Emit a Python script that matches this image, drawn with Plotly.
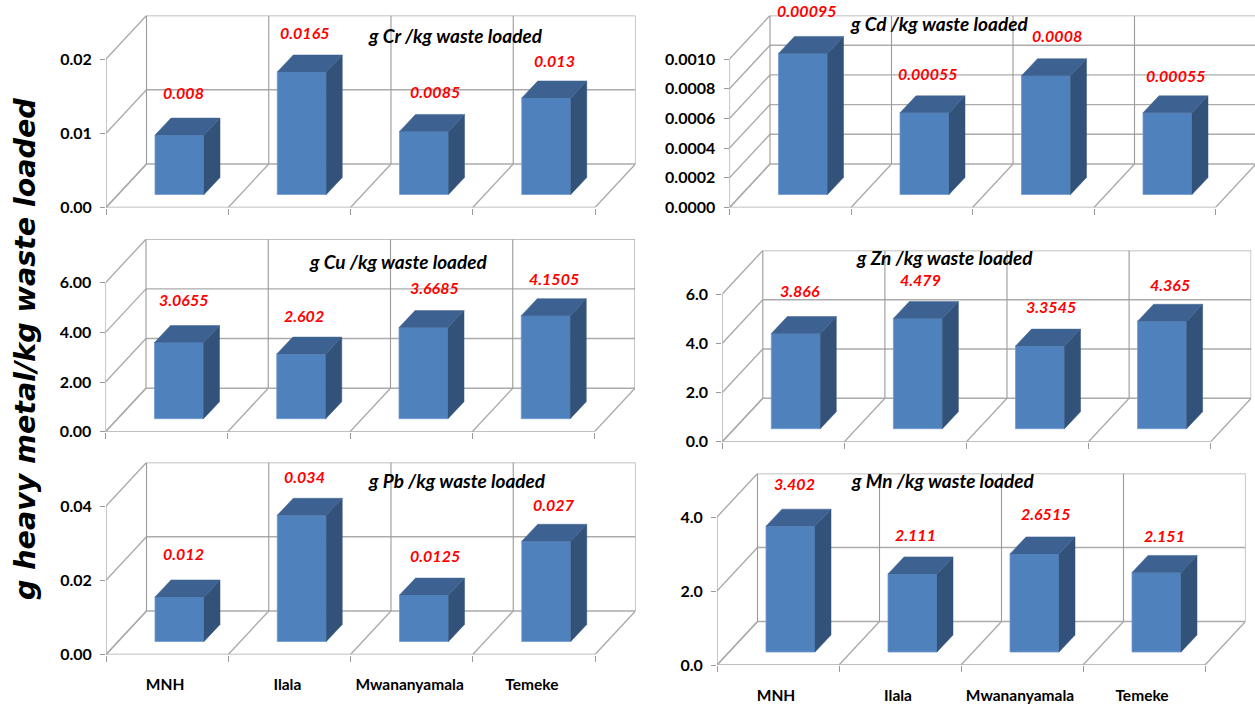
import plotly.graph_objects as go

WIDTH, HEIGHT = 1255, 707

sites = ["MNH", "Ilala", "Mwananyamala", "Temeke"]

cr_values = [0.008, 0.0165, 0.0085, 0.013]
cu_values = [3.0655, 2.602, 3.6685, 4.1505]
pb_values = [0.012, 0.034, 0.0125, 0.027]
cd_values = [0.00095, 0.00055, 0.0008, 0.00055]
zn_values = [3.866, 4.479, 3.3545, 4.365]
mn_values = [3.402, 2.111, 2.6515, 2.151]

cr_labels = ["0.008", "0.0165", "0.0085", "0.013"]
cu_labels = ["3.0655", "2.602", "3.6685", "4.1505"]
pb_labels = ["0.012", "0.034", "0.0125", "0.027"]
cd_labels = ["0.00095", "0.00055", "0.0008", "0.00055"]
zn_labels = ["3.866", "4.479", "3.3545", "4.365"]
mn_labels = ["3.402", "2.111", "2.6515", "2.151"]

cr_ticks = [0, 0.01, 0.02]
cu_ticks = [0, 2, 4, 6]
pb_ticks = [0, 0.02, 0.04]
cd_ticks = [0, 0.0002, 0.0004, 0.0006, 0.0008, 0.001]
zn_ticks = [0, 2, 4, 6]
mn_ticks = [0, 2, 4]

# Layout of each panel in screen pixels: plot origin, category width,
# pixel row of the highest tick, and where its heading is centred.
panels = [
    dict(metal="Cr", values=cr_values, labels=cr_labels, ticks=cr_ticks, fmt="{:.2f}",
         x0=106, cw=122.25, y0=207.5, ytop=59, head=(455, 36), cats=False),
    dict(metal="Cu", values=cu_values, labels=cu_labels, ticks=cu_ticks, fmt="{:.2f}",
         x0=105.5, cw=122.25, y0=431.7, ytop=282.7, head=(399, 261), cats=False),
    dict(metal="Pb", values=pb_values, labels=pb_labels, ticks=pb_ticks, fmt="{:.2f}",
         x0=106, cw=122.25, y0=654.5, ytop=506, head=(457, 480), cats=True),
    dict(metal="Cd", values=cd_values, labels=cd_labels, ticks=cd_ticks, fmt="{:.4f}",
         x0=729.5, cw=121.5, y0=207.5, ytop=59, head=(939, 24), cats=False),
    dict(metal="Zn", values=zn_values, labels=zn_labels, ticks=zn_ticks, fmt="{:.1f}",
         x0=722.3, cw=122.1, y0=441.7, ytop=294, head=(944, 257), cats=False),
    dict(metal="Mn", values=mn_values, labels=mn_labels, ticks=mn_ticks, fmt="{:.1f}",
         x0=717, cw=122, y0=665, ytop=517, head=(942, 480), cats=True),
]

# Oblique projection, in pixels: depth of the box and of each column.
BOX_DX, BOX_DY = 40.5, 43.5
BAR_DX, BAR_DY = 16, 17
BAR_LEFT, BAR_WIDTH, BAR_LIFT = 49, 49, 13

# Value label placement per category: sideways shift and height over the front top edge.
LABEL_SHIFT_X = [4, 3, 11, 8]
LABEL_LIFT = [43, 39, 40, 37]

FRONT, TOP, SIDE = "#4F81BD", "#3D6291", "#325279"
GRID, AXIS = "#ABABAB", "#9A9A9A"
TEXT_FONT = "Lato"

fig = go.Figure()
shapes, annotations = [], []


def grid_line(xref, yref, x1, y1, x2, y2, color=GRID, width=1.4):
    shapes.append(dict(type="line", xref=xref, yref=yref, x0=x1, y0=y1, x1=x2, y1=y2,
                       layer="below", line=dict(color=color, width=width)))


for n, p in enumerate(panels, start=1):
    xa, ya = f"x{n}", f"y{n}"
    vmax = p["ticks"][-1]
    kx = 1 / p["cw"]
    ky = vmax / (p["y0"] - p["ytop"])

    box_x, box_y = BOX_DX * kx, BOX_DY * ky
    bar_dx, bar_dy = BAR_DX * kx, BAR_DY * ky
    lift = BAR_LIFT * ky
    ncat = len(p["values"])

    # Walls and floor of the box.
    for v in p["ticks"]:
        grid_line(xa, ya, 0, v, box_x, v + box_y)
        grid_line(xa, ya, box_x, v + box_y, ncat + box_x, v + box_y)
    for i in range(ncat + 1):
        grid_line(xa, ya, i, 0, i + box_x, box_y)
        grid_line(xa, ya, i + box_x, box_y, i + box_x, vmax + box_y, color=AXIS, width=1.1)
    grid_line(xa, ya, 0, 0, ncat, 0)
    grid_line(xa, ya, 0, 0, 0, vmax, color=AXIS, width=1.1)

    # Column fronts.
    lefts = [i + BAR_LEFT * kx for i in range(ncat)]
    width = BAR_WIDTH * kx
    fig.add_trace(go.Bar(
        x=[left + width / 2 for left in lefts], y=p["values"], base=[lift] * ncat,
        width=width, marker=dict(color=FRONT, line=dict(color="#6E9BD1", width=0.8)),
        xaxis=xa, yaxis=ya, showlegend=False, hoverinfo="skip",
    ))

    # Column top and side faces, built from the same values.
    for i, (left, v) in enumerate(zip(lefts, p["values"])):
        right = left + width
        t = lift + v
        fig.add_trace(go.Scatter(
            x=[right, right + bar_dx, right + bar_dx, right, right],
            y=[lift, lift + bar_dy, t + bar_dy, t, lift],
            mode="lines", fill="toself", fillcolor=SIDE, line=dict(color=SIDE, width=0.5),
            xaxis=xa, yaxis=ya, showlegend=False, hoverinfo="skip",
        ))
        fig.add_trace(go.Scatter(
            x=[left, left + bar_dx, right + bar_dx, right, left],
            y=[t, t + bar_dy, t + bar_dy, t, t],
            mode="lines", fill="toself", fillcolor=TOP, line=dict(color=TOP, width=0.5),
            xaxis=xa, yaxis=ya, showlegend=False, hoverinfo="skip",
        ))
        annotations.append(dict(
            xref=xa, yref=ya, x=left + width / 2, y=t, text=p["labels"][i], showarrow=False,
            xshift=LABEL_SHIFT_X[i], yshift=LABEL_LIFT[i], xanchor="center", yanchor="middle",
            font=dict(family=TEXT_FONT, size=16, color="#FF0000", weight="bold", style="italic"),
        ))

    annotations.append(dict(
        xref="paper", yref="paper", x=p["head"][0] / WIDTH, y=1 - p["head"][1] / HEIGHT,
        text=f"g {p['metal']} /kg waste loaded", showarrow=False,
        xanchor="center", yanchor="middle",
        font=dict(family=TEXT_FONT, size=19, color="#000000", weight="bold", style="italic"),
    ))

    # The plot area runs to the page edge at most; the data range follows it.
    right_px = min(p["x0"] + (ncat + box_x) * p["cw"], WIDTH)
    span_x = (right_px - p["x0"]) * kx
    span_y = vmax + box_y
    xaxis = dict(
        domain=[p["x0"] / WIDTH, right_px / WIDTH], automargin=False,
        range=[0, span_x], anchor=ya, showgrid=False, zeroline=False, showline=False,
        tickmode="array",
        tickvals=[i + 0.5 - 2 * kx for i in range(ncat)],
        ticktext=sites, ticks="", showticklabels=p["cats"],
        ticklabelstandoff=19,
        tickfont=dict(family=TEXT_FONT, size=15.5, color="#000000", weight="bold"),
        minor=dict(tickmode="array", tickvals=list(range(ncat + 1)), ticks="outside",
                   ticklen=6, tickcolor=AXIS, tickwidth=1.1, showgrid=False),
    )
    yaxis = dict(
        domain=[(HEIGHT - p["y0"]) / HEIGHT, (HEIGHT - p["y0"] + span_y / ky) / HEIGHT],
        automargin=False,
        range=[0, span_y], anchor=xa, showgrid=False, zeroline=False, showline=False,
        tickmode="array", tickvals=p["ticks"],
        ticktext=[p["fmt"].format(v) for v in p["ticks"]],
        ticks="outside", ticklen=5, tickcolor=AXIS, tickwidth=1.1, ticklabelstandoff=5,
        tickfont=dict(family=TEXT_FONT, size=16, color="#000000", weight="bold"),
    )
    suffix = "" if n == 1 else str(n)
    fig.update_layout({f"xaxis{suffix}": xaxis, f"yaxis{suffix}": yaxis})

annotations.append(dict(
    xref="paper", yref="paper", x=25 / WIDTH, y=1 - 349 / HEIGHT,
    text="g heavy metal/kg waste loaded", textangle=-90, showarrow=False,
    xanchor="center", yanchor="middle",
    font=dict(family="DejaVu Sans", size=28.5, color="#000000", weight="bold", style="italic"),
))

fig.update_layout(
    width=WIDTH, height=HEIGHT, margin=dict(l=0, r=0, t=0, b=0, pad=0),
    paper_bgcolor="#FFFFFF", plot_bgcolor="rgba(0,0,0,0)",
    barmode="overlay", showlegend=False,
    shapes=shapes, annotations=annotations,
)

fig.write_html("out.html", config=dict(displayModeBar=False))
